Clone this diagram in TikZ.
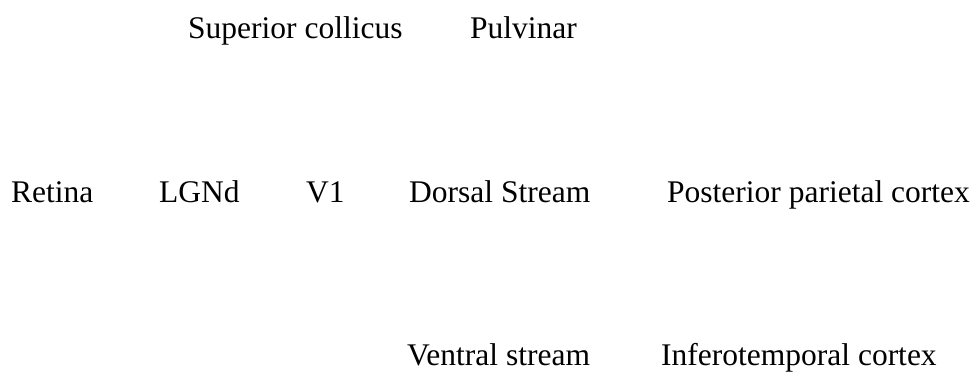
\documentclass[tikz,border=0pt]{standalone}
\usepackage{fontspec}
\setmainfont{Liberation Serif}
\begin{document}
\begin{tikzpicture}[x=1pt,y=-1pt,
  lbl/.style={anchor=base west,inner sep=0pt,font=\fontsize{31.5}{36}\selectfont}]
\useasboundingbox (0,0) rectangle (974,372);
\node[lbl] (sc) at (188,38) {Superior collicus};
\node[lbl] (pulv) at (470,38) {Pulvinar};
\node[lbl] (retina) at (11,202) {Retina};
\node[lbl] (lgnd) at (159,202) {LGNd};
\node[lbl] (v1) at (306,202) {V1};
\node[lbl] (dorsal) at (409,202) {Dorsal Stream};
\node[lbl] (ppc) at (667,202) {Posterior parietal cortex};
\node[lbl] (ventral) at (407,365) {Ventral stream};
\node[lbl] (itc) at (661,365) {Inferotemporal cortex};
\end{tikzpicture}
\end{document}
